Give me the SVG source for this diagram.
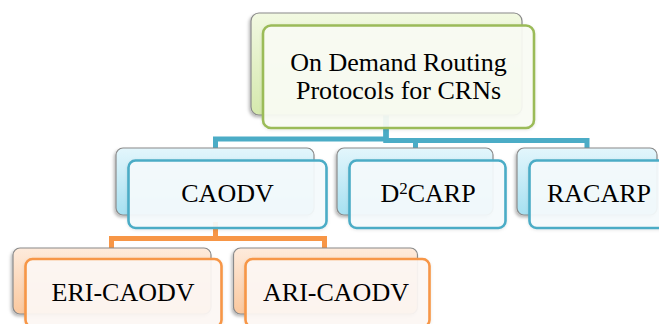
<svg xmlns="http://www.w3.org/2000/svg" width="659" height="324" viewBox="0 0 659 324">
<defs>
<linearGradient id="gBlue" x1="0" y1="0" x2="0" y2="1"><stop offset="0" stop-color="#e3f6fc"/><stop offset="1" stop-color="#a6e0f1"/></linearGradient>
<linearGradient id="gGreen" x1="0" y1="0" x2="0" y2="1"><stop offset="0" stop-color="#f2f9e2"/><stop offset="1" stop-color="#d5e9ad"/></linearGradient>
<linearGradient id="gOrange" x1="0" y1="0" x2="0" y2="1"><stop offset="0" stop-color="#feebdc"/><stop offset="1" stop-color="#fbc89e"/></linearGradient>
<filter id="sh" x="-20%" y="-20%" width="140%" height="150%"><feDropShadow dx="-1.5" dy="2" stdDeviation="1.8" flood-color="#000" flood-opacity="0.28"/></filter>
<filter id="sh2" x="-20%" y="-20%" width="140%" height="150%"><feDropShadow dx="0" dy="1" stdDeviation="1.5" flood-color="#000" flood-opacity="0.1"/></filter>
</defs>
<style>
.back{stroke:#8a8a8a;stroke-width:1.2;filter:url(#sh)}
.front{stroke-width:2.6;filter:url(#sh2)}
.b .back{fill:url(#gBlue)}
.g .back{fill:url(#gGreen)}
.o .back{fill:url(#gOrange)}
.b .front{fill:#f5fbfd;fill-opacity:0.93;stroke:#4bacc6}
.g .front{fill:#fafcf4;fill-opacity:0.93;stroke:#9bbb59}
.o .front{fill:#fdf8f4;fill-opacity:0.93;stroke:#f79646}
.conn path{fill:none;stroke-width:5}
.cb{stroke:#4bacc6}
.co{stroke:#f79646}
text{font-family:"Liberation Serif","Times New Roman",serif;font-size:26px;fill:#000;text-anchor:middle}
</style>
<g id="connectors" class="conn">
<path class="cb" d="M386,108 V139 H215.5 V149"/>
<path class="cb" d="M386,108 V140.5 H415.5 V149"/>
<path class="cb" d="M386,108 V140.5 H587 V149"/>
<path class="co" d="M215.5,222 V238.5 H111.5 V249"/>
<path class="co" d="M215.5,222 V238.5 H324.5 V249"/>
</g>
<g id="node-root" class="g">
<rect class="back" x="251" y="13" width="271" height="102" rx="8"/>
<rect class="front" x="263" y="25.5" width="271" height="102.5" rx="8"/>
<text x="398.5" y="71">On Demand Routing</text>
<text x="398.5" y="99">Protocols for CRNs</text>
</g>
<g id="node-caodv" class="b">
<rect class="back" x="116" y="148" width="198" height="67" rx="7"/>
<rect class="front" x="128.5" y="160.5" width="198" height="67.5" rx="7"/>
<text x="227.5" y="202">CAODV</text>
</g>
<g id="node-d2carp" class="b">
<rect class="back" x="337" y="148" width="156" height="67" rx="7"/>
<rect class="front" x="349.5" y="160.5" width="156" height="67.5" rx="7"/>
<text x="428" y="202">D<tspan font-size="17" dy="-8">2</tspan><tspan dy="8">CARP</tspan></text>
</g>
<g id="node-racarp" class="b">
<rect class="back" x="517" y="148" width="140" height="67" rx="7"/>
<rect class="front" x="529.5" y="160.5" width="140" height="67.5" rx="7"/>
<text x="599" y="202">RACARP</text>
</g>
<g id="node-eri" class="o">
<rect class="back" x="13" y="248" width="198" height="66" rx="7"/>
<rect class="front" x="25.5" y="259" width="196" height="68" rx="7"/>
<text x="123" y="301">ERI-CAODV</text>
</g>
<g id="node-ari" class="o">
<rect class="back" x="233.5" y="248" width="184" height="66" rx="7"/>
<rect class="front" x="245.5" y="259" width="184" height="68" rx="7"/>
<text x="336" y="301">ARI-CAODV</text>
</g>
</svg>
